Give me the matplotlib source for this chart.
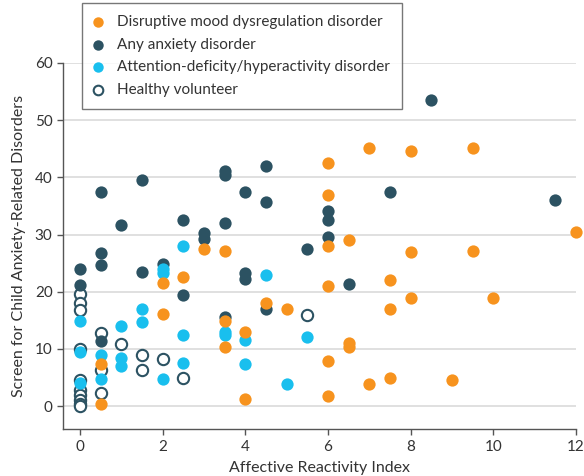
import matplotlib
matplotlib.use("Agg")
import matplotlib.pyplot as plt

# ---- data ----
dmdd_x = [0.5, 0.5, 2, 2, 2.5, 3, 3.5, 3.5, 3.5, 4, 4, 4.5, 5, 6, 6, 6, 6, 6, 6,
          6.5, 6.5, 6.5, 7, 7, 7.5, 7.5, 7.5, 8, 8, 8, 9, 9.5, 9.5, 10, 12]
dmdd_y = [0.3, 7.3, 16.1, 21.5, 22.6, 27.5, 27.1, 14.9, 10.4, 12.9, 1.3, 18.1, 17.0,
          42.6, 37.0, 28.0, 21.0, 7.9, 1.8, 29.1, 11.0, 10.3, 3.9, 45.1, 22.0, 17.0,
          5.0, 44.6, 27.0, 18.9, 4.6, 45.2, 27.1, 18.9, 30.5]

anx_x = [0, 0, 0.5, 0.5, 0.5, 0.5, 1, 1.5, 1.5, 2, 2.5, 2.5, 3, 3, 3.5, 3.5, 3.5, 3.5,
         4, 4, 4, 4.5, 4.5, 4.5, 5.5, 6, 6, 6, 6.5, 7.5, 8.5, 11.5]
anx_y = [24.0, 21.1, 37.4, 26.7, 24.6, 11.4, 31.6, 39.5, 23.5, 24.8, 32.5, 19.4, 30.3,
         29.2, 41.2, 40.4, 32.1, 15.6, 37.5, 23.2, 22.3, 42.0, 35.7, 16.9, 27.5, 34.1,
         32.5, 29.6, 21.4, 37.5, 53.6, 36.0]

adhd_x = [0, 0, 0, 0.5, 0.5, 1, 1, 1, 1.5, 1.5, 2, 2, 2, 2.5, 2.5, 2.5, 3.5, 3.5,
          4, 4, 4.5, 5, 5.5]
adhd_y = [14.9, 9.4, 4.0, 9.0, 4.7, 14.0, 8.5, 7.0, 16.9, 14.7, 4.8, 23.9, 23.2, 28.0,
          12.4, 7.6, 13.0, 12.4, 11.5, 7.4, 22.9, 3.9, 12.1]

hv_x = [0, 0, 0, 0, 0, 0, 0, 0, 0, 0, 0.5, 0.5, 0.5, 1, 1.5, 1.5, 2, 2.5, 5.5]
hv_y = [19.6, 18.1, 16.8, 10.0, 4.6, 2.8, 1.9, 1.0, 0.3, 0.0, 12.7, 6.3, 2.3, 10.8,
        9.0, 6.4, 8.2, 5.0, 15.9]

labels = ["Disruptive mood dysregulation disorder", "Any anxiety disorder",
          "Attention-deficity/hyperactivity disorder", "Healthy volunteer"]
x_ticks = [0, 2, 4, 6, 8, 10, 12]
y_ticks = [0, 10, 20, 30, 40, 50, 60]

ORANGE = "#F7931E"
DARK = "#2C5262"
CYAN = "#19BFEE"
TEXT = "#333333"

plt.rcParams['font.family'] = ['Lato', 'DejaVu Sans']

fig = plt.figure(figsize=(5.84, 4.76), dpi=100)
ax = fig.add_axes([63/584, 47/476, 513/584, 366/476])

s = 78
h_hv = ax.scatter(hv_x, hv_y, s=s*0.85, facecolor="white", edgecolor=DARK,
                  linewidth=1.5, zorder=3, clip_on=False)
h_anx = ax.scatter(anx_x, anx_y, s=s, color=DARK, linewidth=0, zorder=4, clip_on=False)
h_adhd = ax.scatter(adhd_x, adhd_y, s=s, color=CYAN, linewidth=0, zorder=5, clip_on=False)
h_dmdd = ax.scatter(dmdd_x, dmdd_y, s=s, color=ORANGE, linewidth=0, zorder=6, clip_on=False)

ax.set_xlim(-0.41, 12.0)
ax.set_ylim(-4.0, 60)
ax.set_xticks(x_ticks)
ax.set_yticks(y_ticks)
ax.yaxis.grid(True, color="#dddddd", linewidth=1.3, zorder=0)
ax.set_axisbelow(True)
for sp in ["top", "right"]:
    ax.spines[sp].set_visible(False)
for sp in ["left", "bottom"]:
    ax.spines[sp].set_color("#555555")
    ax.spines[sp].set_linewidth(1.0)
ax.tick_params(axis="both", colors="#555555", labelcolor=TEXT, labelsize=11,
               length=4.5, width=1.0)
ax.tick_params(axis="y", pad=3)
ax.set_xlabel("Affective Reactivity Index", fontsize=11.5, color=TEXT, labelpad=5)
ax.set_ylabel("Screen for Child Anxiety-Related Disorders", fontsize=11.5, color=TEXT,
              labelpad=6)

leg = fig.legend([h_dmdd, h_anx, h_adhd, h_hv], labels,
                 loc="upper left", bbox_to_anchor=(82/584, 1 - 3/476),
                 frameon=True, fancybox=False, fontsize=11, markerscale=0.85,
                 handletextpad=1.0, borderpad=0.8, labelspacing=0.56,
                 handlelength=0.5, borderaxespad=0)
leg.get_frame().set_edgecolor("#555555")
leg.get_frame().set_linewidth(1.0)
for t in leg.get_texts():
    t.set_color(TEXT)

fig.savefig("out.png", dpi=100)
